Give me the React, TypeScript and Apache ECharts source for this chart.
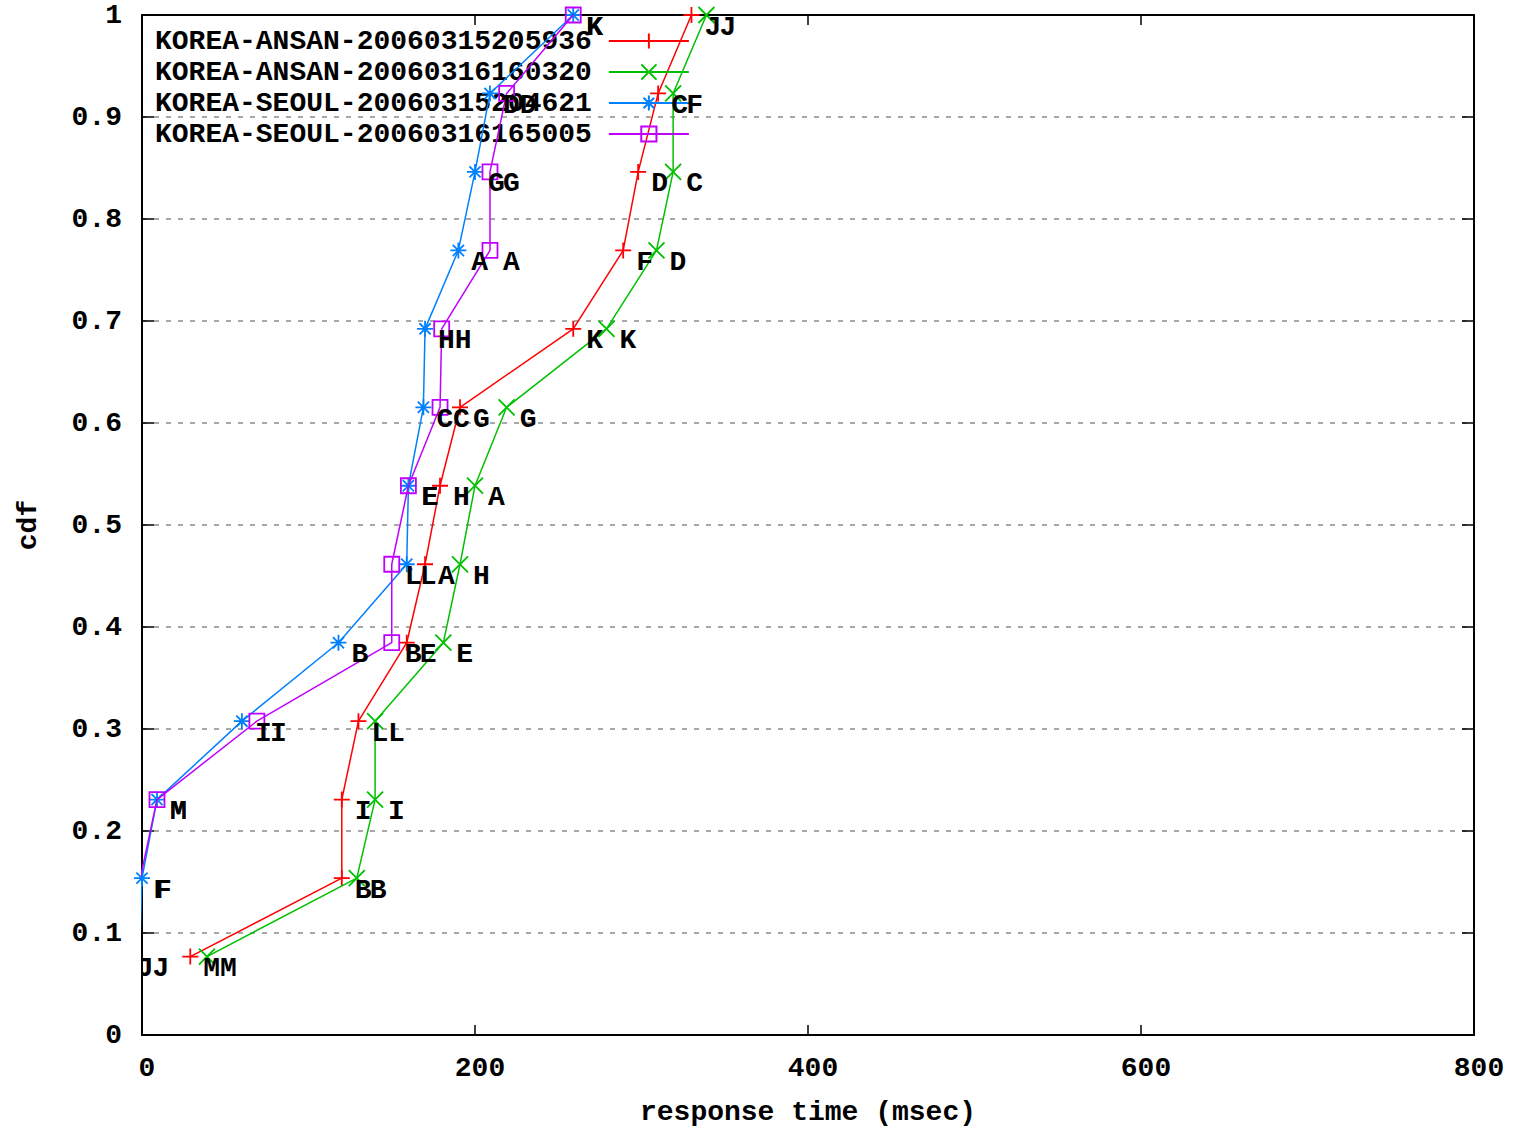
import React, { useEffect, useRef } from "react";
import * as echarts from "echarts";

// cdf levels (k/13)
const cdfLevels = [0.0769, 0.1538, 0.2308, 0.3077, 0.3846, 0.4615, 0.5385, 0.6154, 0.6923, 0.7692, 0.8462, 0.9231, 1];

const seriesNames = [
  "KOREA-ANSAN-20060315205936",
  "KOREA-ANSAN-20060316160320",
  "KOREA-SEOUL-20060315204621",
  "KOREA-SEOUL-20060316165005",
];

// response times (msec)
const ansan0315 = [29, 120, 120, 130, 159, 170, 179, 191, 259, 289, 298, 310, 330];
const ansan0316 = [39, 129, 140, 140, 181, 191, 200, 219, 279, 309, 319, 319, 339];
const seoul0315 = [-1.5, 0, 9, 60, 118, 159, 160, 169, 170, 190, 200, 209, 259];
const seoul0316 = [-11, -1, 9, 69, 150, 150, 160, 179, 180, 209, 209, 219, 259];

// point labels (site letters)
const ansan0315Labels = ["M", "B", "I", "L", "E", "A", "H", "G", "K", "F", "D", "C", "J"];
const ansan0316Labels = ["M", "B", "I", "L", "E", "H", "A", "G", "K", "D", "C", "F", "J"];
const seoul0315Labels = ["J", "F", "M", "I", "B", "L", "E", "C", "H", "A", "G", "D", "K"];
const seoul0316Labels = ["J", "F", "M", "I", "B", "L", "E", "C", "H", "A", "G", "D", "K"];

const xTicks = [0, 200, 400, 600, 800];

const colors = ["#ff0000", "#00c000", "#0080ff", "#c000ff"];
const symbols = [
  "path://M0,5L10,5M5,0L5,10",
  "path://M0,0L10,10M10,0L0,10",
  "path://M0,5L10,5M5,0L5,10M1.5,1.5L8.5,8.5M8.5,1.5L1.5,8.5",
  "path://M0,0L10,0L10,10L0,10Z",
];

const FONT = '"Liberation Mono", "DejaVu Sans Mono", monospace';

export default function App() {
  const ref = useRef<HTMLDivElement>(null);

  useEffect(() => {
    if (!ref.current) return;
    const chart = echarts.init(ref.current, undefined, { renderer: "svg" });

    const values = [ansan0315, ansan0316, seoul0315, seoul0316];
    const labels = [ansan0315Labels, ansan0316Labels, seoul0315Labels, seoul0316Labels];

    const lineSeries = values.map((vals, i) => ({
      name: seriesNames[i],
      type: "line",
      xAxisIndex: 0,
      yAxisIndex: 0,
      data: vals.map((v, k) => [v, cdfLevels[k]]),
      symbol: symbols[i],
      symbolSize: i === 3 ? 15 : 16,
      showAllSymbol: true,
      clip: true,
      lineStyle: { color: colors[i], width: 1.5 },
      itemStyle: {
        color: i === 3 ? "rgba(0,0,0,0)" : colors[i],
        borderColor: colors[i],
        borderWidth: 1.8,
      },
      emphasis: { disabled: true },
      z: 2 + i,
    }));

    const labelData: number[][] = [];
    const labelTexts: string[] = [];
    values.forEach((vals, i) => {
      vals.forEach((v, k) => {
        labelData.push([v, cdfLevels[k]]);
        labelTexts.push(labels[i][k]);
      });
    });

    const tickLabelStyle = {
      fontFamily: FONT,
      fontSize: 28,
      fontWeight: "bold",
      color: "#000",
    };

    const frameLine = { show: true, onZero: false, lineStyle: { color: "#000", width: 2 } };

    chart.setOption({
      animation: false,
      backgroundColor: "#fff",
      grid: {
        left: 142,
        top: 15,
        right: 39,
        bottom: 92,
        containLabel: false,
        outerBoundsMode: "none",
      },
      legend: {
        data: seriesNames,
        orient: "vertical",
        left: 150,
        top: 22,
        align: "right",
        itemWidth: 80,
        itemHeight: 19,
        itemGap: 3,
        selectedMode: false,
        textStyle: {
          fontFamily: FONT,
          fontSize: 28,
          fontWeight: "bold",
          color: "#000",
          lineHeight: 28,
          padding: [0, 12, 0, 0],
        },
      },
      xAxis: [
        {
          type: "value",
          min: xTicks[0],
          max: xTicks[xTicks.length - 1],
          interval: 200,
          position: "bottom",
          name: "response time (msec)",
          nameLocation: "middle",
          nameGap: 63,
          nameTextStyle: { ...tickLabelStyle },
          axisLine: frameLine,
          axisTick: { show: true, inside: true, length: 10, lineStyle: { color: "#000", width: 1.5 } },
          axisLabel: { ...tickLabelStyle, margin: 19, padding: [0, 0, 0, 10] },
          splitLine: { show: false },
        },
        {
          type: "value",
          min: xTicks[0],
          max: xTicks[xTicks.length - 1],
          interval: 200,
          position: "top",
          axisLine: frameLine,
          axisTick: { show: true, inside: true, length: 10, lineStyle: { color: "#000", width: 1.5 } },
          axisLabel: { show: false },
          splitLine: { show: false },
        },
      ],
      yAxis: [
        {
          type: "value",
          min: 0,
          max: 1,
          interval: 0.1,
          position: "left",
          name: "cdf",
          nameLocation: "middle",
          nameGap: 100,
          nameTextStyle: { ...tickLabelStyle },
          axisLine: frameLine,
          axisTick: { show: true, inside: true, length: 12, lineStyle: { color: "#000", width: 1.5 } },
          axisLabel: {
            ...tickLabelStyle,
            margin: 20,
            formatter: (v: number) => (v === 0 ? "0" : v === 1 ? "1" : v.toFixed(1)),
          },
          splitLine: { show: true, lineStyle: { color: "#a8a8a8", width: 2, type: [5, 7] } },
        },
        {
          type: "value",
          min: 0,
          max: 1,
          interval: 0.1,
          position: "right",
          axisLine: frameLine,
          axisTick: { show: true, inside: true, length: 12, lineStyle: { color: "#000", width: 1.5 } },
          axisLabel: { show: false },
          splitLine: { show: false },
        },
      ],
      series: [
        ...lineSeries,
        {
          name: "point-labels",
          type: "custom",
          xAxisIndex: 0,
          yAxisIndex: 0,
          clip: true,
          z: 10,
          data: labelData,
          renderItem: (params: any, api: any) => {
            const p = api.coord([api.value(0), api.value(1)]);
            return {
              type: "text",
              x: p[0] + 13,
              y: p[1] + 12,
              style: {
                text: labelTexts[params.dataIndex],
                fill: "#000",
                font: `bold 28px ${FONT}`,
                align: "left",
                verticalAlign: "middle",
              },
            };
          },
        },
      ],
    });

    return () => chart.dispose();
  }, []);

  return (
    <div
      ref={ref}
      style={{ position: "absolute", left: 0, top: 0, width: 1513, height: 1127 }}
    />
  );
}
